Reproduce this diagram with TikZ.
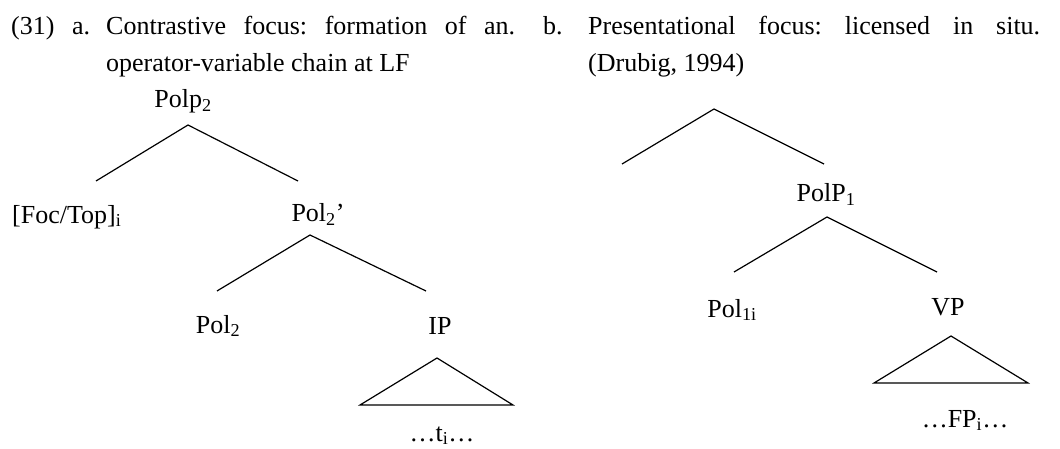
\documentclass[tikz,border=0pt]{standalone}
\usepackage{fontspec}
\setmainfont{Liberation Serif}
\frenchspacing
\tikzset{
  lab/.style={inner sep=0pt,anchor=base,font=\fontsize{26}{30}\selectfont},
  labw/.style={lab,anchor=base west},
  gren/.style={line width=1.2pt,line join=miter}
}
\begin{document}
\begin{tikzpicture}[x=1pt,y=-1pt]
\useasboundingbox (0,0) rectangle (1060,449);
%overskrift a
\node [labw] (nr) at (11,35) {(31)};
\node [labw] (pa) at (72,35) {a.};
\node [labw] (txa1) at (106,35) {\makebox[409pt][s]{Contrastive focus: formation of an.}};
\node [labw] (txa2) at (106,72) {operator-variable chain at LF};
%overskrift b
\node [labw] (pb) at (543,35) {b.};
\node [labw] (txb1) at (588,35) {\makebox[452pt][s]{Presentational focus: licensed in situ.}};
\node [labw] (txb2) at (588,72) {(Drubig, 1994)};
%trae a
\node [lab] (polp) at (183,108) {Polp\textsubscript{2}};
\node [labw] (foc) at (12,223) {[Foc/Top]\textsubscript{i}};
\node [lab] (polbar) at (318,222) {Pol\textsubscript{2}’};
\node [lab] (pol) at (218,333) {Pol\textsubscript{2}};
\node [lab] (ip) at (440,334) {IP};
\node [lab] (ti) at (442,441) {…t\textsubscript{i}…};
\coordinate (a0) at (188,125);
\coordinate (a0l) at (96,181);
\coordinate (a0r) at (298,181);
\coordinate (a1) at (310,235);
\coordinate (a1l) at (217,291);
\coordinate (a1r) at (426,291);
\draw [gren] (a0l)--(a0)--(a0r);
\draw [gren] (a1l)--(a1)--(a1r);
\coordinate (ipt) at (437,358);
\draw [gren] (ipt)--(360,405)--(513,405)--cycle;
%trae b
\node [lab] (polp1) at (826,202) {PolP\textsubscript{1}};
\node [lab] (pol1) at (732,317) {Pol\textsubscript{1i}};
\node [lab] (vp) at (948,315) {VP};
\node [lab] (fp) at (965,427) {…FP\textsubscript{i}…};
\coordinate (b0) at (714,109);
\coordinate (b0l) at (622,164);
\coordinate (b0r) at (824,164);
\coordinate (b1) at (827,217);
\coordinate (b1l) at (734,272);
\coordinate (b1r) at (937,272);
\draw [gren] (b0l)--(b0)--(b0r);
\draw [gren] (b1l)--(b1)--(b1r);
\coordinate (vpt) at (951,336);
\draw [gren] (vpt)--(874,383)--(1028,383)--cycle;
\end{tikzpicture}
\end{document}
